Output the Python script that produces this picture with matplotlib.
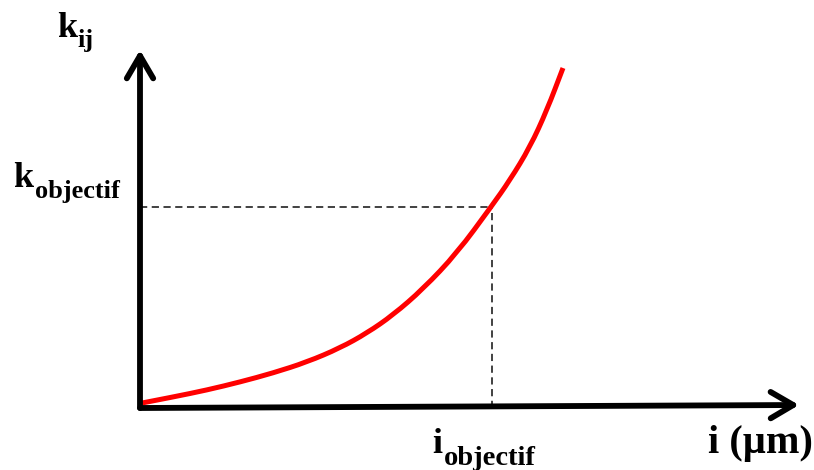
import matplotlib
matplotlib.use('Agg')
import matplotlib.pyplot as plt
from matplotlib.patches import FancyArrowPatch, PathPatch
from matplotlib.path import Path

# Schematic k_ij versus i curve (arbitrary units, origin at the axes corner)
curve_i = [2, 33, 67, 100, 133, 167, 200, 227, 253, 283, 317, 351, 370, 390, 407, 423]
curve_k = [5, 11, 18, 26, 35, 46, 60, 75, 93, 119, 155, 201, 228, 261, 298, 340]

i_objectif = 352
k_objectif = 201

x_axis_end = 659
y_axis_end = 358


def smooth_path(xs, ys):
    # quadratic Bezier through segment midpoints, using the points as controls
    pts = list(zip(xs, ys))
    verts = [pts[0]]
    codes = [Path.MOVETO]
    for a, b in zip(pts[1:-1], pts[2:]):
        mid = ((a[0] + b[0]) / 2, (a[1] + b[1]) / 2)
        verts += [a, mid]
        codes += [Path.CURVE3, Path.CURVE3]
    verts.append(pts[-1])
    codes.append(Path.LINETO)
    return Path(verts, codes)


fig = plt.figure(figsize=(8.14, 4.70), dpi=100)
ax = fig.add_axes([0, 0, 1, 1])
ax.set_xlim(-140, 674)
ax.set_ylim(-62, 408)
ax.axis('off')

# Axes drawn as thick arrows
arrow_style = '->,head_length=0.65,head_width=0.38'
for end in [(x_axis_end, 3), (0, y_axis_end)]:
    ax.add_patch(FancyArrowPatch((0, 0), end, arrowstyle=arrow_style,
                                 mutation_scale=25, lw=4.2, color='black',
                                 shrinkA=0, shrinkB=0, capstyle='round',
                                 joinstyle='round', zorder=3))

# Dashed guides to the target point
guide = dict(ls=(0, (4, 2.5)), lw=1.3, color='#333333', zorder=1)
ax.plot([0, i_objectif], [k_objectif, k_objectif], **guide)
ax.plot([i_objectif, i_objectif], [0, k_objectif], **guide)

ax.add_patch(PathPatch(smooth_path(curve_i, curve_k), facecolor='none',
                       edgecolor='#ff0000', lw=3.6, capstyle='butt',
                       joinstyle='round', zorder=2))

# Labels: main letter plus a lowered subscript
font = dict(family='Liberation Serif', fontweight='bold', ha='left', va='baseline')
ax.text(-83, 371, 'k', fontsize=26, **font)
ax.text(-63, 361, 'ij', fontsize=19, **font)
ax.text(-127, 221, 'k', fontsize=26, **font)
ax.text(-105, 210, 'objectif', fontsize=19, **font)
ax.text(292, -45, 'i', fontsize=26, **font)
ax.text(304, -57, 'objectif', fontsize=20.5, **font)
ax.text(568, -45, 'i (µm)', fontsize=29, **font)

fig.savefig('out.png', dpi=100)
